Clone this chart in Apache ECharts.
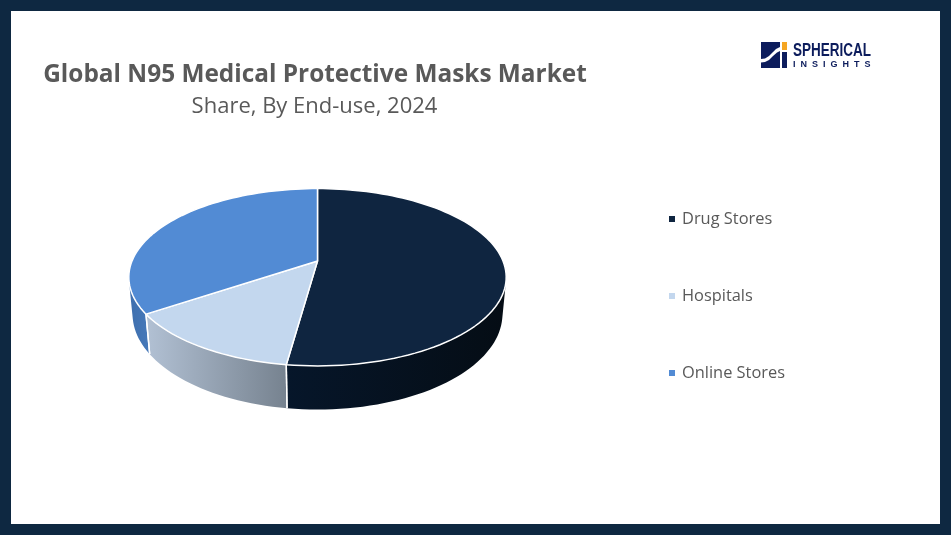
<!DOCTYPE html>
<html><head><meta charset="utf-8">
<style>html,body{margin:0;padding:0;background:#fff}#c{width:951px;height:535px}</style>
<script src="https://cdn.jsdelivr.net/npm/echarts@6/dist/echarts.min.js"></script>
</head><body><div id="c"></div>
<script>
const categories = ['Drug Stores', 'Hospitals', 'Online Stores'];
const shares = [52.2, 13.4, 34.4];
const topColors = ['#0f2540', '#c3d7ee', '#528bd4'];
const wallStops = [
  ['#06162a', '#050d15'],
  ['#b1c0d3', '#76828f'],
  ['#3e6fae', '#4679ba']
];
const wallRange = [[286, 503], [148, 287], [130, 150]];
const topDisc = { x: 317.5, y: 261, a: 185.5, b: 85.7, k: 0.183 };
const baseDisc = { x: 317.5, y: 297, a: 182, b: 92.5, k: 0.178 };

const total = shares.reduce((s, v) => s + v, 0);
function project(d, deg) {
  const t = deg * Math.PI / 180, X = Math.sin(t), n = -Math.cos(t), w = 1 - d.k * n;
  return [d.x + d.a * X / w, d.y + d.b * n / w];
}
function arc(d, from, to) {
  const steps = Math.max(2, Math.ceil(Math.abs(to - from) / 2)), pts = [];
  for (let i = 0; i <= steps; i++) pts.push(project(d, from + (to - from) * i / steps));
  return pts;
}
function span(i) {
  const from = shares.slice(0, i).reduce((s, v) => s + v, 0) / total * 360;
  return [from, from + shares[i] / total * 360];
}
// The rim angle where the wall's edge runs tangent to the top disc (the outline of the drum).
function tangentAngle(from, to) {
  let best = from, bestCross = Infinity;
  for (let t = from; t <= to; t += 0.25) {
    const p = project(topDisc, t), q = project(topDisc, t + 0.25), r = project(baseDisc, t);
    const cross = Math.abs((q[0] - p[0]) * (r[1] - p[1]) - (q[1] - p[1]) * (r[0] - p[0]));
    const len = Math.hypot(q[0] - p[0], q[1] - p[1]) * Math.hypot(r[0] - p[0], r[1] - p[1]);
    if (cross / len < bestCross) { bestCross = cross / len; best = t; }
  }
  return best;
}
const wallFrom = tangentAngle(60, 150), wallTo = tangentAngle(210, 300);
const series = [];
categories.forEach((name, i) => {
  series.push({
    type: 'custom', name, coordinateSystem: 'none', z: 2, silent: true,
    itemStyle: { color: topColors[i] }, data: [shares[i]],
    renderItem() {
      const [a0, b0] = span(i);
      const a = Math.max(a0, wallFrom), b = Math.min(b0, wallTo);
      const grad = new echarts.graphic.LinearGradient(wallRange[i][0], 0, wallRange[i][1], 0,
        [{ offset: 0, color: wallStops[i][0] }, { offset: 1, color: wallStops[i][1] }], true);
      const children = [{ type: 'polygon', shape: { points: arc(topDisc, a, b).concat(arc(baseDisc, b, a)) }, style: { fill: grad } }];
      [a0, b0].filter(t => t > wallFrom && t < wallTo).forEach(t => {
        const u = project(topDisc, t), l = project(baseDisc, t);
        children.push({ type: 'line', z2: 5, shape: { x1: u[0], y1: u[1], x2: l[0], y2: l[1] }, style: { stroke: '#fff', lineWidth: 1.4 } });
      });
      return { type: 'group', children };
    }
  });
});
categories.forEach((name, i) => {
  series.push({
    type: 'custom', name, coordinateSystem: 'none', z: 3, silent: true,
    itemStyle: { color: topColors[i] }, data: [shares[i]],
    renderItem() {
      const [a, b] = span(i);
      const pts = [[topDisc.x, topDisc.y]].concat(arc(topDisc, a, b));
      return { type: 'polygon', shape: { points: pts }, style: { fill: topColors[i], stroke: '#fff', lineWidth: 1.5, lineJoin: 'round' } };
    }
  });
});
const navy = '#0e2841', logoNavy = '#0c1c5c', grey = '#595959';
const swoosh = [[761,59],[765,58.5],[769,56],[773,52],[776,49],[780,47],[780,51],[777,52.5],[773,56],[769,60],[765,62],[761,62.5]];
const chart = echarts.init(document.getElementById('c'), null, { renderer: 'canvas' });
chart.setOption({
  animation: false,
  backgroundColor: '#fff',
  title: [
    { text: 'Global N95 Medical Protective Masks Market', left: 310, top: 58, textAlign: 'center',
      textStyle: { fontFamily: 'Open Sans', fontWeight: 'bold', fontSize: 24.4, color: grey } },
    { text: 'Share, By End-use, 2024', left: 309.5, top: 91, textAlign: 'center',
      textStyle: { fontFamily: 'Open Sans', fontWeight: 'normal', fontSize: 22, color: grey } }
  ],
  legend: {
    orient: 'vertical', left: 664, top: 206, icon: 'rect', itemWidth: 6, itemHeight: 6, itemGap: 61,
    selectedMode: false, data: categories,
    textStyle: { fontFamily: 'Open Sans', fontSize: 16.4, color: grey, padding: [0, 0, 0, 2] }
  },
  graphic: [
    { type: 'rect', silent: true, z: 10, shape: { x: 5.5, y: 5.5, width: 940, height: 524 }, style: { fill: 'none', stroke: navy, lineWidth: 11 } },
    { type: 'rect', silent: true, shape: { x: 761, y: 42, width: 19, height: 26 }, style: { fill: logoNavy } },
    { type: 'rect', silent: true, shape: { x: 782, y: 52, width: 5, height: 16 }, style: { fill: logoNavy } },
    { type: 'rect', silent: true, shape: { x: 782, y: 42, width: 5, height: 8 }, style: { fill: '#f5a623' } },
    { type: 'polygon', silent: true, z: 20, shape: { points: swoosh }, style: { fill: '#fff' } },
    { type: 'text', silent: true, x: 793, y: 42, scaleX: 0.75, style: { text: 'SPHERICAL', fill: logoNavy, font: 'bold 18px "Liberation Sans"' } },
    { type: 'text', silent: true, x: 793, y: 60, style: { text: 'I  N  S  I  G  H  T  S', fill: logoNavy, font: 'bold 9px "Liberation Sans"' } }
  ],
  series
});
</script></body></html>
